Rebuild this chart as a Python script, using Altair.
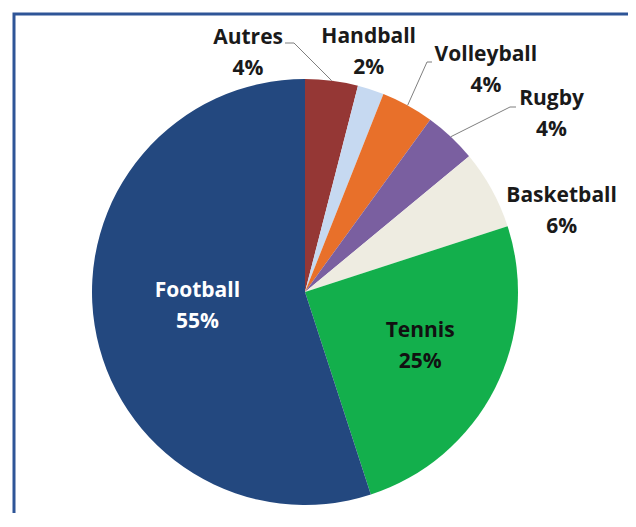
import math
import altair as alt
import pandas as pd

# ---- data ----
categories = ["Autres", "Handball", "Volleyball", "Rugby", "Basketball", "Tennis", "Football"]
values = [4, 2, 4, 4, 6, 25, 55]
pct_labels = ["4%", "2%", "4%", "4%", "6%", "25%", "55%"]
colors = ["#953735", "#C6D9F1", "#E8702A", "#7A5FA0", "#EEECE1", "#13AF4C", "#23487F"]

df = pd.DataFrame({
    "category": categories,
    "value": values,
    "pct": pct_labels,
    "order": list(range(len(categories))),
})

W, H = 620, 505
CX, CY = 297, 284
R = 213
FONT = "Open Sans"

color_scale = alt.Scale(domain=categories, range=colors)

pie = alt.Chart(df).mark_arc(radius=R, stroke=None).encode(
    theta=alt.Theta("value:Q", stack=True),
    order=alt.Order("order:Q"),
    color=alt.Color("category:N", scale=color_scale, legend=None),
    x=alt.value(CX),
    y=alt.value(CY),
)

label_base = (
    alt.Chart(df)
    .transform_window(cum="sum(value)", sort=[alt.SortField("order")], frame=[None, 0])
    .transform_calculate(mid="datum.cum - datum.value / 2",
                         label="datum.category + '\\n' + datum.pct")
)

# per-label style: radius from centre, nudge, text colour
label_style = {
    "Autres": (240, -87, -16, "#1a1a1a"),
    "Handball": (248, -13, -19, "#1a1a1a"),
    "Volleyball": (280, 46, 8, "#1a1a1a"),
    "Rugby": (290, 48, 18, "#1a1a1a"),
    "Basketball": (270, 20, 34, "#1a1a1a"),
    "Football": (110, 1, -18, "#FFFFFF"),
    "Tennis": (127, 2, -19, "#111111"),
}

label_layers = []
for cat, (rad, dx, dy, col) in label_style.items():
    label_layers.append(
        label_base.transform_filter(alt.datum.category == cat)
        .mark_text(radius=rad, dx=dx, dy=dy, font=FONT, fontSize=21, fontWeight="bold",
                   color=col, lineBreak="\n", lineHeight=31, align="center", baseline="middle")
        .encode(
            theta=alt.Theta("mid:Q", stack=False, scale=alt.Scale(domain=[0, 100], range=[0, 2 * math.pi])),
            text="label:N",
            x=alt.value(CX),
            y=alt.value(CY),
        )
    )

# leader lines: elbow near the label, then to the slice edge at the slice's mid angle
cum = 0
mids = {}
for c, v in zip(categories, values):
    mids[c] = (cum + v / 2) / 100 * 2 * math.pi
    cum += v

def edge(cat):
    a = mids[cat]
    return CX + R * math.sin(a), CY - R * math.cos(a)

elbows = {
    "Autres": ((277, 35), (286, 35)),
    "Volleyball": ((424, 54), (419, 54)),
    "Rugby": ((508, 99), (502, 99)),
}
segs = []
for cat, (p0, p1) in elbows.items():
    ex, ey = edge(cat)
    segs.append({"x1": p0[0], "y1": p0[1], "x2": p1[0], "y2": p1[1]})
    segs.append({"x1": p1[0], "y1": p1[1], "x2": ex, "y2": ey})
seg_df = pd.DataFrame(segs)

leaders = alt.Chart(seg_df).mark_rule(color="#7F7F7F", strokeWidth=1).encode(
    x=alt.X("x1:Q", scale=None, axis=None),
    y=alt.Y("y1:Q", scale=None, axis=None),
    x2="x2:Q",
    y2="y2:Q",
)

border = alt.Chart(pd.DataFrame({"a": [0]})).mark_rect(
    fill=None, stroke="#2E5597", strokeWidth=3
).encode(
    x=alt.value(6), y=alt.value(6), x2=alt.value(W + 50), y2=alt.value(H + 50)
)

chart = alt.layer(border, pie, leaders, *label_layers).properties(
    width=W, height=H, padding=0, autosize=alt.AutoSizeParams(type="none"),
    background="white",
).configure_view(stroke=None)

chart.save("out.html", embed_options={"renderer": "svg", "actions": False})
